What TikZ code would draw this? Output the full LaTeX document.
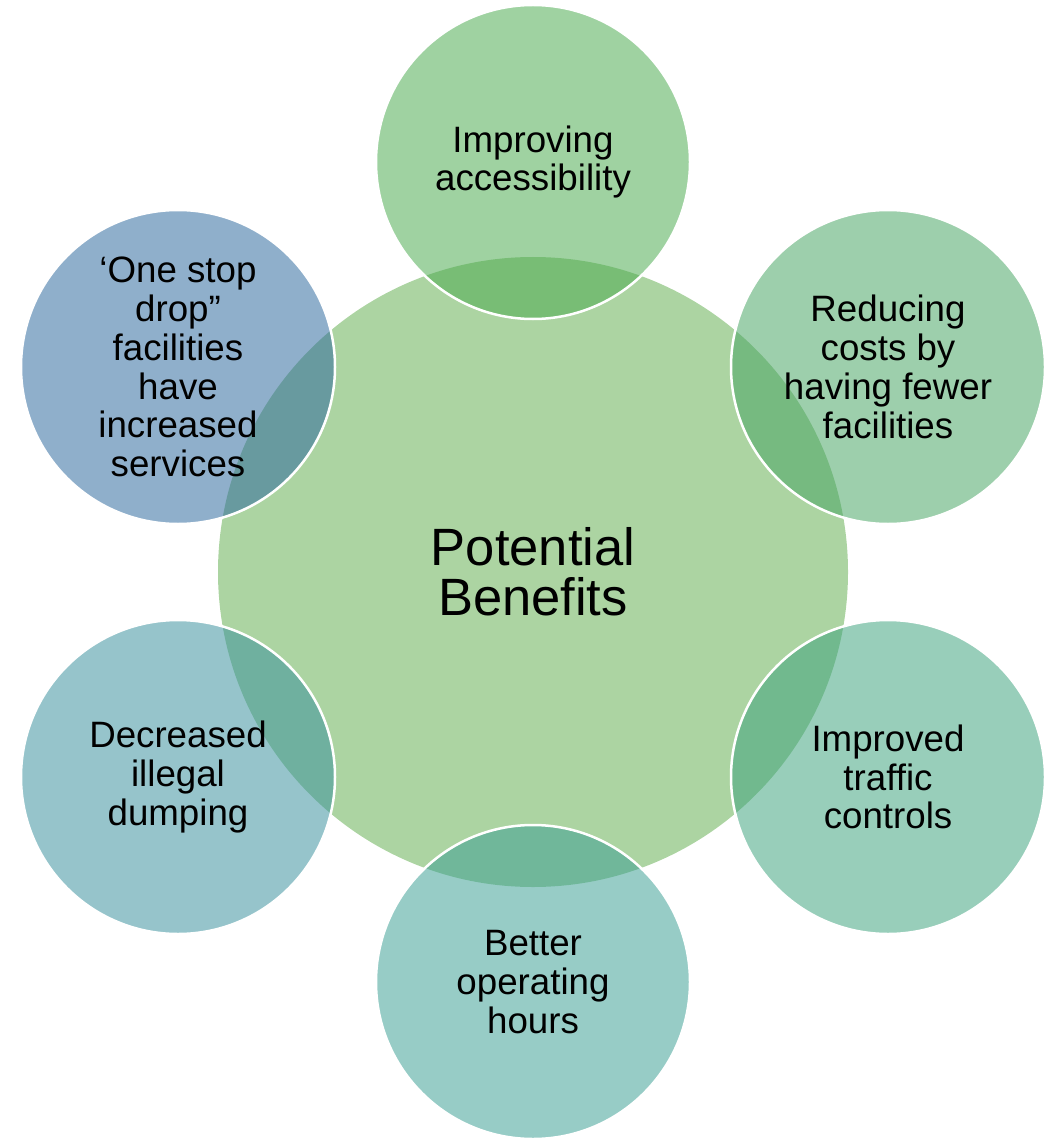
\documentclass[tikz,border=0pt]{standalone}
\usepackage{fontspec}
\setmainfont{Liberation Sans}
\definecolor{centralc}{RGB}{172,212,162}
\definecolor{ctop}{RGB}{74,170,78}
\definecolor{cur}{RGB}{70,164,98}
\definecolor{clr}{RGB}{61,162,125}
\definecolor{cbot}{RGB}{59,159,148}
\definecolor{cll}{RGB}{57,144,157}
\definecolor{cul}{RGB}{44,104,157}
\begin{document}
\begin{tikzpicture}[x=1pt,y=-1pt,
  centre/.style={circle,fill=centralc,inner sep=0pt,minimum size=630pt,align=center,
    font=\fontsize{52.5}{50}\selectfont},
  outer/.style={circle,fill=#1,fill opacity=0.53,text opacity=1,draw=white,line width=2.5pt,
    inner sep=0pt,minimum size=314pt,align=center,font=\fontsize{36.7}{38.8}\selectfont}]
\useasboundingbox (0,0) rectangle (1053,1139);
\node[centre] (c) at (533,572) {Potential\\Benefits};
\node[outer=ctop] (t) at (533,162) {Improving\\accessibility};
\node[outer=cur] (ur) at (888,367) {Reducing\\costs by\\having fewer\\facilities};
\node[outer=clr] (lr) at (888,777) {Improved\\traffic\\controls};
\node[outer=cbot] (b) at (533,982) {Better\\operating\\hours};
\node[outer=cll] (ll) at (178,777) {Decreased\\illegal\\dumping};
\node[outer=cul] (ul) at (178,367) {‘One stop\\drop”\\facilities\\have\\increased\\services};
\end{tikzpicture}
\end{document}
